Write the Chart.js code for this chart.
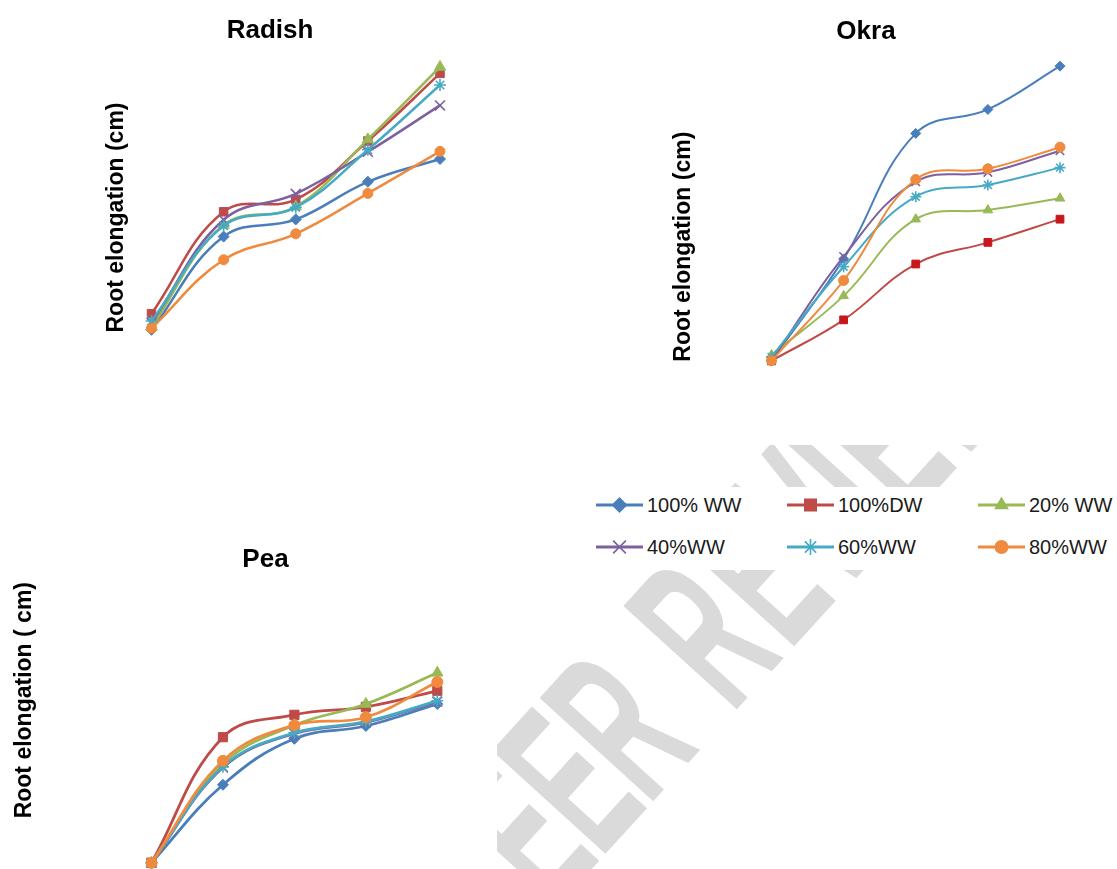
<!DOCTYPE html>
<html><head><meta charset="utf-8">
<script src="https://cdn.jsdelivr.net/npm/chart.js@4.4.1/dist/chart.umd.min.js"></script>
<style>
html,body{margin:0;padding:0;background:#fff;overflow:hidden;}
#page{position:relative;width:1117px;height:869px;background:#fff;overflow:hidden;}
.box{position:absolute;}
#wm{position:absolute;left:497px;top:445px;width:620px;height:424px;overflow:hidden;}
#wmText{position:absolute;white-space:pre;font-family:'Liberation Sans',Arial,sans-serif;font-weight:bold;font-size:110px;line-height:110px;color:#dadada;}
#wmText span{display:inline-block;line-height:110px;}
#legend{position:absolute;left:575px;top:487px;width:542px;height:83px;background:#fff;}
.li{position:absolute;height:22px;width:190px;}
.li canvas{position:absolute;left:0;top:0;}
.li span{position:absolute;left:51px;top:0;line-height:22px;font-family:'Liberation Sans',Arial,sans-serif;font-size:20px;color:#1a1a1a;white-space:nowrap;}
</style></head><body>
<div id="page">
  <div id="wm"><div id="wmText"></div></div>
  <div class="box" id="bRadish"><canvas id="cRadish"></canvas></div>
  <div class="box" id="bOkra"><canvas id="cOkra"></canvas></div>
  <div class="box" id="bPea"><canvas id="cPea"></canvas></div>
  <div id="legend"></div>
</div>
<script>
// ---------------- data ----------------
const categories = ['1', '2', '3', '4', '5'];
const seriesNames = ['100% WW', '100%DW', '20% WW', '40%WW', '60%WW', '80%WW'];

const radish100WW = [1.38, 3.71, 4.14, 5.08, 5.65];
const radish100DW = [1.78, 4.33, 4.64, 6.10, 7.79];
const radish20WW  = [1.45, 4.00, 4.46, 6.14, 7.95];
const radish40WW  = [1.55, 4.13, 4.78, 5.83, 6.99];
const radish60WW  = [1.60, 3.98, 4.44, 5.88, 7.50];
const radish80WW  = [1.42, 3.13, 3.78, 4.79, 5.84];

const okra100WW = [2.10, 4.69, 7.88, 8.49, 9.59];
const okra100DW = [2.10, 3.14, 4.56, 5.11, 5.70];
const okra20WW  = [2.25, 3.75, 5.70, 5.93, 6.23];
const okra40WW  = [2.10, 4.75, 6.65, 6.89, 7.44];
const okra60WW  = [2.20, 4.49, 6.27, 6.57, 7.01];
const okra80WW  = [2.10, 4.14, 6.71, 6.98, 7.53];

const pea100WW = [0.43, 2.38, 3.53, 3.85, 4.40];
const pea100DW = [0.43, 3.57, 4.13, 4.33, 4.73];
const pea20WW  = [0.43, 2.90, 3.87, 4.40, 5.18];
const pea40WW  = [0.43, 2.81, 3.66, 3.94, 4.46];
const pea60WW  = [0.43, 2.83, 3.68, 3.96, 4.48];
const pea80WW  = [0.43, 2.98, 3.87, 4.07, 4.95];

const watermarkText = 'PEER REVIEW';

// ---------------- styles ----------------
const lineColors = ['#4A7EBB', '#BE4B48', '#98B954', '#7D60A0', '#46AAC5', '#EF8A3E'];
const pointStyles = ['rectRot', 'rect', 'triangle', 'crossRot', 'star', 'circle'];
const FONT = "'Liberation Sans', Arial, sans-serif";
const TITLE_SIZE = 26, AXIS_SIZE = 23;

function buildChart(id, boxId, box, L, title, axisTitle, seriesData, st) {
  const b = document.getElementById(boxId);
  b.style.left = box.left + 'px'; b.style.top = box.top + 'px';
  b.style.width = box.width + 'px'; b.style.height = box.height + 'px';
  const cv = document.getElementById(id);
  cv.width = box.width; cv.height = box.height;
  const titleLH = TITLE_SIZE * 1.2, axisLH = AXIS_SIZE * 1.2;
  const left0 = box.left + L.padL;
  const yAxisW = L.cl - left0;
  const axisPadTop = L.ax - left0 - axisLH / 2;
  const titleRight = 2 * L.tx - left0;
  const padR = box.left + box.width - titleRight;
  const y2W = titleRight - L.cr;
  const titlePadTop = L.ty - box.top - titleLH / 2;
  const titlePadBottom = L.ct - box.top - titlePadTop - titleLH;
  const padB = box.top + box.height - L.cb;

  const datasets = seriesData.map((vals, i) => ({
    label: seriesNames[i],
    data: vals,
    borderColor: lineColors[i],
    backgroundColor: (st.pointColors && st.pointColors[i]) || lineColors[i],
    pointBackgroundColor: (st.pointColors && st.pointColors[i]) || lineColors[i],
    pointBorderColor: (st.pointColors && st.pointColors[i]) || lineColors[i],
    pointBorderWidth: (pointStyles[i] === 'crossRot' || pointStyles[i] === 'star') ? 1.6 : 1,
    borderWidth: st.lineWidth,
    pointStyle: pointStyles[i],
    pointRadius: st.radii[i],
    tension: 0.4,
    clip: false,
    order: 6 - i
  }));

  return new Chart(cv, {
    type: 'line',
    data: { labels: categories, datasets },
    options: {
      responsive: false,
      animation: false,
      events: [],
      layout: { padding: { left: L.padL, right: padR, top: 0, bottom: padB } },
      elements: { line: { capBezierPoints: false } },
      plugins: {
        legend: { display: false },
        tooltip: { enabled: false },
        title: {
          display: true, text: title, color: '#000',
          font: { family: FONT, size: TITLE_SIZE, weight: 'bold' },
          padding: { top: titlePadTop, bottom: titlePadBottom }
        }
      },
      scales: {
        x: { type: 'category', display: false, offset: false },
        y: {
          type: 'linear', position: 'left', min: L.ymin, max: L.ymax,
          grid: { display: false, drawTicks: false }, border: { display: false },
          ticks: { display: false },
          title: { display: true, text: axisTitle, color: '#000', align: L.axAlign || 'center',
                   font: { family: FONT, size: AXIS_SIZE, weight: 'bold' },
                   padding: { top: axisPadTop, bottom: 0 } },
          afterFit: s => { s.width = yAxisW; }
        },
        y2: {
          type: 'linear', position: 'right',
          grid: { display: false, drawTicks: false }, border: { display: false },
          ticks: { display: false },
          afterFit: s => { s.width = y2W; }
        }
      }
    }
  });
}

buildChart('cRadish', 'bRadish', { left: 0, top: 0, width: 560, height: 450 },
  { padL: 0, cl: 151.5, cr: 440, ct: 50, cb: 385, ax: 117, tx: 270, ty: 31, ymin: 0, ymax: 8.375 },
  'Radish', 'Root elongation (cm)',
  [radish100WW, radish100DW, radish20WW, radish40WW, radish60WW, radish80WW],
  { lineWidth: 2.5, radii: [5.5, 6, 6.5, 7, 6, 5] });

buildChart('cOkra', 'bOkra', { left: 560, top: 0, width: 557, height: 460 },
  { padL: 110, cl: 771.5, cr: 1060, ct: 50, cb: 443.4, ax: 684, tx: 866, ty: 32, ymin: 0, ymax: 10 },
  'Okra', 'Root elongation (cm)',
  [okra100WW, okra100DW, okra20WW, okra40WW, okra60WW, okra80WW],
  { lineWidth: 2, radii: [5, 5.5, 5.5, 6, 5.5, 5],
    pointColors: ['#4A7EBB', '#C8161D', '#98B954', '#7D60A0', '#46AAC5', '#EF8A3E'] });

buildChart('cPea', 'bPea', { left: 0, top: 500, width: 540, height: 380 },
  { padL: 0, cl: 151.5, cr: 437.3, ct: 582, cb: 870, ax: 25, tx: 265.5, ty: 560, ymin: 0.25, ymax: 7.45, axAlign: 'end' },
  'Pea', 'Root elongation ( cm)',
  [pea100WW, pea100DW, pea20WW, pea40WW, pea60WW, pea80WW],
  { lineWidth: 2.75, radii: [5.5, 6.5, 6.5, 7, 6, 5.5] });

// ---------------- watermark ----------------
(function () {
  const t = document.getElementById('wmText');
  const adv = [80, 71, 71, 85, 39.5, 85, 71, 74, 35, 71, 110];  // letter advances along the slanted baseline
  watermarkText.split('').forEach((ch, i) => {
    const s = document.createElement('span');
    s.textContent = ch;
    s.style.width = adv[i] + 'px';
    t.appendChild(s);
  });
  const base = 93.1;                      // baseline offset inside the line box
  const ox = 499, oy = 970.9;             // page point where the text baseline starts
  t.style.left = (ox - 497) + 'px';
  t.style.top = (oy - base - 445) + 'px';
  t.style.transformOrigin = '0px ' + base + 'px';
  t.style.transform = 'rotate(-47.7deg) scaleY(2.03)';
})();

// ---------------- legend (built from the series) ----------------
function drawMarker(ctx, style, x, y, r, color) {
  ctx.save();
  ctx.fillStyle = color; ctx.strokeStyle = color; ctx.lineWidth = 1.6;
  ctx.beginPath();
  const c45 = Math.SQRT1_2 * r;
  switch (style) {
    case 'rectRot':
      ctx.moveTo(x, y - r); ctx.lineTo(x + r, y); ctx.lineTo(x, y + r); ctx.lineTo(x - r, y);
      ctx.closePath(); ctx.fill(); break;
    case 'rect':
      ctx.rect(x - c45, y - c45, 2 * c45, 2 * c45); ctx.fill(); break;
    case 'triangle': {
      let a = 0;
      ctx.moveTo(x + Math.sin(a) * r, y - Math.cos(a) * r); a += 2 * Math.PI / 3;
      ctx.lineTo(x + Math.sin(a) * r, y - Math.cos(a) * r); a += 2 * Math.PI / 3;
      ctx.lineTo(x + Math.sin(a) * r, y - Math.cos(a) * r);
      ctx.closePath(); ctx.fill(); break;
    }
    case 'crossRot':
      ctx.moveTo(x - c45, y - c45); ctx.lineTo(x + c45, y + c45);
      ctx.moveTo(x - c45, y + c45); ctx.lineTo(x + c45, y - c45);
      ctx.stroke(); break;
    case 'star':
      ctx.moveTo(x, y - r); ctx.lineTo(x, y + r);
      ctx.moveTo(x - r, y); ctx.lineTo(x + r, y);
      ctx.moveTo(x - c45, y - c45); ctx.lineTo(x + c45, y + c45);
      ctx.moveTo(x - c45, y + c45); ctx.lineTo(x + c45, y - c45);
      ctx.stroke(); break;
    default:
      ctx.arc(x, y, r, 0, Math.PI * 2); ctx.fill();
  }
  ctx.restore();
}
(function () {
  const lg = document.getElementById('legend');
  const colX = [21, 212, 403], rowY = [7, 49];
  const legR = [8, 9.2, 8.5, 9, 8, 7];
  seriesNames.forEach((name, i) => {
    const item = document.createElement('div');
    item.className = 'li';
    item.style.left = colX[i % 3] + 'px';
    item.style.top = rowY[Math.floor(i / 3)] + 'px';
    const c = document.createElement('canvas');
    c.width = 48; c.height = 22;
    const ctx = c.getContext('2d');
    ctx.strokeStyle = lineColors[i]; ctx.lineWidth = 3;
    ctx.beginPath(); ctx.moveTo(0, 11); ctx.lineTo(47, 11); ctx.stroke();
    drawMarker(ctx, pointStyles[i], 23.5, 11, legR[i], lineColors[i]);
    const s = document.createElement('span');
    s.textContent = name;
    item.appendChild(c); item.appendChild(s);
    lg.appendChild(item);
  });
})();
</script>
</body></html>
